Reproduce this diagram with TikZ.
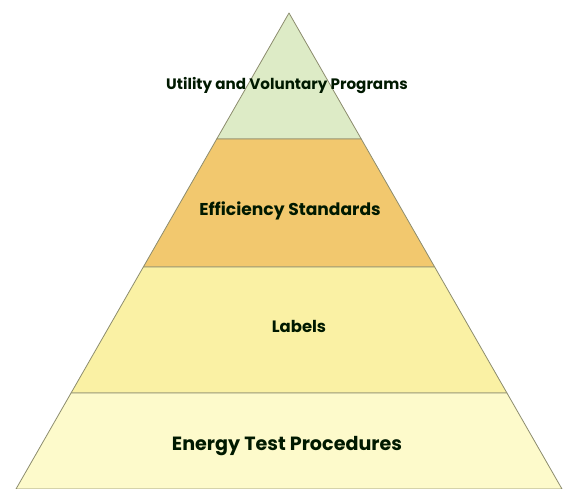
\documentclass[tikz,border=0pt]{standalone}
\usepackage{fontspec}
\setmainfont{Poppins}
\usetikzlibrary{calc}
\definecolor{topgreen}{HTML}{DDEBC6}
\definecolor{stdorange}{HTML}{F2C86E}
\definecolor{lblyellow}{HTML}{FAF1A4}
\definecolor{basecream}{HTML}{FDFACB}
\definecolor{edgegrey}{HTML}{8C8C6E}
\begin{document}
\begin{tikzpicture}[
   x = 1bp, y = -1bp,
 band/.style = {draw=edgegrey, line width=0.8bp, line join=round},% pyramid layers
  txt/.style = {font=\bfseries, text=black!90!green, inner sep=0pt},% layer labels
]
\useasboundingbox (0,0) rectangle (564,489);
% corners of the pyramid
\coordinate (apex) at (289,13);
\coordinate (bl)   at (16,489);
\coordinate (br)   at (562,489);
% points where the layers meet the sides
\foreach \t [count=\i from 1] in {0.2647,0.5336,0.7983}
{
\coordinate (l\i) at ($(apex)!\t!(bl)$);
\coordinate (r\i) at ($(apex)!\t!(br)$);
}
% layers, top to bottom
\draw[band, fill=topgreen]  (apex) -- (r1) -- (l1) -- cycle;
\draw[band, fill=stdorange] (l1) -- (r1) -- (r2) -- (l2) -- cycle;
\draw[band, fill=lblyellow] (l2) -- (r2) -- (r3) -- (l3) -- cycle;
\draw[band, fill=basecream] (l3) -- (r3) -- (br) -- (bl) -- cycle;
% labels
\node[txt, font=\bfseries\fontsize{15.2}{17}\selectfont] (util) at (287,86)  {Utility and Voluntary Programs};
\node[txt, font=\bfseries\fontsize{17.2}{19}\selectfont] (eff)  at (290,211) {Efficiency Standards};
\node[txt, font=\bfseries\fontsize{16.5}{19}\selectfont] (lbl)  at (299,326) {Labels};
\node[txt, font=\bfseries\fontsize{19.2}{21}\selectfont] (etp)  at (287,446) {Energy Test Procedures};
\end{tikzpicture}
\end{document}
